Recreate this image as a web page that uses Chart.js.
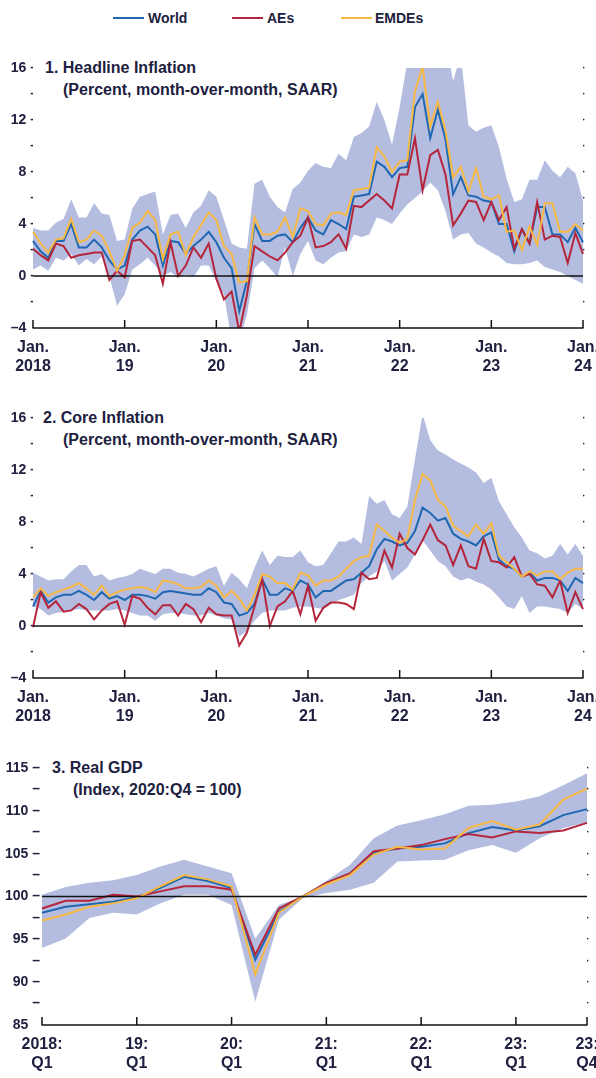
<!DOCTYPE html>
<html>
<head>
<meta charset="utf-8">
<script src="https://cdn.jsdelivr.net/npm/chart.js@4.4.1/dist/chart.umd.min.js"></script>
<style>
  body { margin: 0; background: #fff; }
  #page { position: relative; width: 596px; height: 1078px; overflow: hidden; font-family: "Liberation Sans", Arial, sans-serif; color: #202040; }
  canvas { position: absolute; left: 0; }
  .t { position: absolute; font-weight: bold; font-size: 16px; line-height: 18px; white-space: nowrap; }
  .lg { position: absolute; top: 9px; font-weight: bold; font-size: 14px; line-height: 18px; white-space: nowrap; }
  .lg i { position: absolute; top: 8px; width: 31px; height: 2px; }
</style>
</head>
<body>
<div id="page">
  <div class="lg" style="left:113px"><i style="left:0;background:#1f67b1"></i><span style="margin-left:35px">World</span></div>
  <div class="lg" style="left:232px"><i style="left:0;background:#b5253b"></i><span style="margin-left:35px">AEs</span></div>
  <div class="lg" style="left:341px"><i style="left:0;background:#f7b844"></i><span style="margin-left:34px">EMDEs</span></div>

  <div class="t" style="left:45px;top:59px">1. Headline Inflation</div>
  <div class="t" style="left:63px;top:81px">(Percent, month-over-month, SAAR)</div>
  <canvas id="c1" width="596" height="345" style="top:40px"></canvas>

  <div class="t" style="left:43px;top:409px">2. Core Inflation</div>
  <div class="t" style="left:63px;top:431px">(Percent, month-over-month, SAAR)</div>
  <canvas id="c2" width="596" height="340" style="top:390px"></canvas>

  <div class="t" style="left:52px;top:759px">3. Real GDP</div>
  <div class="t" style="left:73px;top:781px">(Index, 2020:Q4 = 100)</div>
  <canvas id="c3" width="596" height="338" style="top:740px"></canvas>
</div>

<script>
// ---- данные: помесячно, янв. 2018 – янв. 2024 ----
const months = [];
for (let y = 2018; y <= 2024; y++) {
    for (let m = 1; m <= 12; m++) {
        if (y === 2024 && m > 1) break;
        months.push(y + '-' + String(m).padStart(2, '0'));
    }
}
const yearTicks = [['Jan.', '2018'], ['Jan.', '19'], ['Jan.', '20'], ['Jan.', '21'], ['Jan.', '22'], ['Jan.', '23'], ['Jan.', '24']];

// 1. Headline inflation
const headWorld = [2.7, 1.9, 1.4, 2.7, 2.7, 4.0, 2.2, 2.2, 2.8, 2.2, 1.2, 0.5,
    0.8, 2.8, 3.5, 3.8, 3.2, 0.8, 2.7, 2.6, 1.7, 2.3, 2.8, 3.4,
    2.6, 1.4, 0.6, -2.7, -0.4, 4.0, 2.7, 2.7, 3.1, 3.2, 2.6, 3.7,
    4.5, 3.5, 3.2, 4.3, 4.0, 3.6, 6.1, 6.2, 6.3, 8.8, 8.4, 7.6,
    8.3, 8.4, 13.0, 14.0, 10.6, 12.8, 10.5, 6.3, 7.6, 6.2, 6.1, 5.8,
    5.7, 4.0, 4.0, 1.9, 3.6, 2.5, 5.3, 5.3, 3.2, 3.2, 2.6, 3.7,
    2.6];
const headAEs = [2.1, 1.6, 1.2, 2.5, 2.3, 1.4, 1.6, 1.7, 1.8, 1.8, -0.3, 0.4,
    -0.1, 2.7, 2.8, 2.2, 1.6, -0.6, 2.6, 0.0, 0.8, 2.2, 1.4, 2.5,
    -0.2, -1.8, -1.2, -4.3, -1.5, 2.3, 1.9, 1.5, 1.2, 1.8, 2.6, 3.1,
    4.5, 2.2, 2.3, 2.6, 3.2, 2.1, 5.4, 5.3, 5.8, 6.3, 5.8, 5.2,
    7.8, 7.8, 10.6, 6.6, 9.3, 9.7, 7.8, 3.9, 4.8, 5.8, 5.7, 4.3,
    5.7, 4.3, 5.3, 2.1, 3.6, 2.5, 5.7, 2.8, 3.1, 3.0, 1.0, 3.3,
    1.7];
const headEMDEs = [3.4, 2.5, 1.8, 2.8, 2.9, 4.4, 2.6, 2.8, 3.5, 3.1, 1.9, 0.4,
    1.6, 3.7, 4.1, 5.0, 4.3, 1.3, 3.2, 3.4, 1.6, 3.0, 3.9, 4.9,
    4.3, 2.3, 1.7, -0.5, -0.4, 4.5, 3.2, 3.2, 3.4, 4.5, 3.0, 5.2,
    5.0, 4.0, 3.9, 4.8, 4.9, 4.7, 6.6, 6.7, 6.8, 9.9, 9.2, 8.0,
    8.8, 8.9, 14.2, 16.1, 11.5, 13.4, 11.2, 7.6, 8.4, 6.5, 8.3, 6.1,
    5.9, 6.2, 3.4, 3.5, 2.0, 3.8, 2.4, 5.6, 5.6, 3.4, 3.4, 4.0,
    3.5];
const headHigh = [3.7, 3.5, 3.5, 4.1, 4.4, 5.9, 4.5, 4.5, 5.6, 4.8, 4.7, 2.7,
    2.8, 5.2, 6.1, 6.3, 6.5, 3.2, 4.7, 4.8, 3.7, 4.9, 5.4, 6.6,
    6.1, 4.3, 2.5, 2.2, 2.1, 7.1, 7.4, 6.1, 5.3, 4.9, 6.7, 7.2,
    8.1, 8.7, 8.4, 8.3, 9.4, 8.9, 10.7, 11.0, 11.5, 13.4, 12.0, 10.1,
    13.0, 16.5, 18.0, 18.0, 18.0, 18.0, 18.0, 15.0, 17.0, 11.6, 11.1, 11.4,
    11.6, 9.9, 7.5, 5.7, 5.9, 7.4, 7.4, 8.9, 8.1, 7.6, 8.4, 7.9,
    5.8];
const headLow = [0.5, 0.8, 0.4, 1.4, 1.2, 1.7, 0.8, 1.3, 0.9, 1.5, 0.0, -2.3,
    -1.4, 0.5, 0.9, 1.4, 0.8, 0.0, 0.3, -0.1, 0.1, -0.1, 0.8, 0.8,
    -0.4, -1.4, -5.0, -5.0, -3.0, 0.6, 1.2, 0.6, -0.1, 2.2, 0.0, 1.7,
    2.7, 1.2, 0.9, 1.4, 1.8, 1.9, 3.2, 3.0, 3.2, 4.5, 4.3, 4.0,
    4.8, 5.5, 6.0, 6.5, 7.2, 6.6, 5.0, 2.8, 3.2, 3.3, 2.5, 2.2,
    1.8, 1.5, 1.0, 0.9, 0.9, 1.0, 1.2, 0.7, 0.5, 0.3, 0.0, -0.3,
    -0.6];

// 2. Core inflation
const coreWorld = [1.5, 2.7, 1.8, 2.2, 2.4, 2.4, 2.7, 2.4, 2.0, 2.6, 2.1, 2.3,
    2.0, 2.4, 2.4, 2.3, 2.1, 2.6, 2.7, 2.6, 2.5, 2.4, 2.4, 2.9,
    2.6, 1.8, 1.7, 0.8, 1.0, 1.7, 3.6, 2.4, 2.4, 2.9, 2.7, 3.5,
    3.2, 2.2, 2.7, 2.7, 3.1, 3.5, 3.6, 4.1, 4.6, 5.9, 6.7, 6.5,
    6.2, 6.4, 7.3, 9.1, 8.7, 8.1, 8.3, 7.1, 6.7, 6.5, 6.2, 6.9,
    7.2, 5.1, 4.6, 4.4, 3.8, 4.1, 3.5, 3.7, 3.7, 3.5, 2.7, 3.7,
    3.3];
const coreAEs = [-0.1, 2.6, 1.4, 1.9, 1.1, 1.2, 1.7, 1.3, 0.5, 1.2, 1.7, 1.9,
    0.1, 2.3, 2.1, 1.4, 0.9, 1.6, 1.6, 0.8, 1.7, 1.3, 0.3, 1.4,
    0.9, 0.8, 0.8, -1.5, -0.5, 1.5, 3.6, 0.0, 1.5, 1.9, 2.7, 0.9,
    3.1, 0.4, 1.4, 1.8, 1.8, 1.7, 1.3, 4.1, 3.6, 3.7, 5.8, 4.5,
    7.1, 6.0, 5.5, 6.6, 7.8, 6.6, 6.2, 4.7, 6.2, 4.6, 4.4, 6.7,
    5.0, 4.9, 4.5, 5.3, 3.8, 4.0, 3.2, 3.1, 2.2, 3.5, 1.0, 2.6,
    1.3];
const coreEMDEs = [2.2, 2.9, 2.3, 2.6, 2.8, 3.0, 3.3, 2.9, 2.4, 3.1, 2.3, 2.6,
    2.8, 2.9, 3.0, 2.9, 2.6, 3.5, 3.4, 3.2, 2.9, 2.9, 3.0, 3.5,
    3.1, 2.2, 2.7, 2.1, 1.2, 2.4, 4.0, 3.8, 3.3, 3.3, 2.8, 4.1,
    3.9, 3.1, 3.5, 3.5, 3.8, 4.4, 5.0, 5.3, 5.4, 7.8, 7.3, 6.8,
    6.4, 6.7, 9.7, 11.7, 11.2, 9.7, 9.2, 7.7, 7.3, 6.9, 7.8, 7.1,
    7.9, 5.4, 4.9, 4.4, 3.8, 4.2, 3.9, 4.2, 4.2, 3.6, 4.1, 4.4,
    4.4];
const coreHigh = [4.1, 3.8, 3.5, 3.6, 3.6, 4.2, 4.7, 4.7, 3.8, 4.0, 3.5, 3.7,
    3.8, 4.0, 4.4, 4.2, 4.0, 4.4, 4.4, 4.1, 4.0, 3.8, 4.1, 4.4,
    4.6, 3.1, 4.1, 3.6, 2.9, 4.5, 5.8, 4.7, 5.4, 5.3, 5.3, 5.8,
    4.9, 4.6, 4.7, 5.6, 6.5, 6.5, 6.8, 6.3, 10.0, 9.4, 9.7, 8.6,
    8.3, 9.2, 12.8, 16.3, 14.3, 13.5, 13.2, 12.8, 12.5, 12.2, 11.8, 11.0,
    11.4, 9.6, 8.6, 7.6, 6.8, 5.8, 5.6, 5.2, 5.4, 6.3, 5.5, 6.3,
    5.4];
const coreLow = [1.5, 1.3, 0.8, 1.0, 1.1, 1.2, 1.3, 1.2, 1.2, 1.2, 1.2, 1.3,
    1.2, 1.0, 0.8, 0.8, 0.4, 0.9, 1.0, 1.0, 0.9, 0.8, 0.8, 1.0,
    0.8, 0.6, 0.5, -0.8, -0.4, 0.4, 1.0, 1.2, 1.2, 1.2, 1.4, 1.5,
    1.5, 1.4, 1.3, 1.7, 2.0, 2.2, 2.4, 3.3, 3.8, 4.2, 5.0, 3.5,
    4.0, 4.5, 5.5, 6.6, 5.8, 5.0, 4.6, 3.8, 3.5, 3.7, 3.4, 3.2,
    2.8, 2.2, 1.5, 1.3, 2.3, 1.0, 1.5, 1.5, 1.4, 1.3, 1.0, 1.7,
    1.3];

// 3. Real GDP, поквартально 2018:Q1 – 2023:Q4
const quarters = ['2018Q1', '2018Q2', '2018Q3', '2018Q4', '2019Q1', '2019Q2', '2019Q3', '2019Q4',
    '2020Q1', '2020Q2', '2020Q3', '2020Q4', '2021Q1', '2021Q2', '2021Q3', '2021Q4',
    '2022Q1', '2022Q2', '2022Q3', '2022Q4', '2023Q1', '2023Q2', '2023Q3', '2023Q4'];
const quarterTicks = { 0: ['2018:', 'Q1'], 4: ['19:', 'Q1'], 8: ['20:', 'Q1'], 12: ['21:', 'Q1'], 16: ['22:', 'Q1'], 20: ['23:', 'Q1'], 23: ['23:', 'Q4'] };
const gdpWorld = [98.1, 98.8, 99.1, 99.4, 99.9, 101.0, 102.3, 101.8, 101.0, 92.6, 98.2, 100.0,
    101.6, 102.7, 105.1, 105.6, 105.8, 106.2, 107.4, 108.1, 107.7, 108.2, 109.5, 110.2];
const gdpAEs = [98.6, 99.5, 99.5, 100.2, 100.0, 100.6, 101.2, 101.2, 100.8, 93.2, 98.6, 100.0,
    101.6, 102.7, 105.3, 105.6, 106.0, 106.7, 107.3, 106.9, 107.6, 107.4, 107.7, 108.6];
const gdpEMDEs = [97.2, 97.9, 98.8, 99.2, 99.8, 101.2, 102.5, 102.0, 101.2, 90.9, 98.1, 100.0,
    101.4, 102.5, 104.9, 105.8, 105.5, 105.6, 108.0, 108.8, 107.8, 108.4, 111.3, 112.6];
const gdpHigh = [100.2, 101.1, 101.6, 101.9, 102.5, 103.5, 104.3, 103.5, 102.7, 95.1, 99.0, 100.0,
    101.8, 103.7, 106.8, 108.3, 108.9, 109.6, 110.6, 110.7, 111.1, 111.7, 113.0, 114.4];
const gdpLow = [94.0, 95.1, 97.5, 98.1, 97.9, 99.2, 100.2, 100.2, 99.0, 87.7, 97.3, 99.8,
    100.4, 100.8, 101.6, 104.1, 104.2, 104.3, 105.4, 106.0, 105.1, 106.8, 108.0, 108.6];

// ---- оформление ----
const TEXT = '#202040';
const BLUE = '#1f67b1', RED = '#b5253b', YELLOW = '#f7b844', BAND = '#b4bde0';
const DASH = '\u2013';

Chart.defaults.font.family = '"Liberation Sans", Arial, sans-serif';
Chart.defaults.color = TEXT;

// чёрная линия (0 или 100), ось снизу и засечки вверх
const axisMarks = {
    id: 'axisMarks',
    afterDatasetsDraw(chart, args, opts) {
        const { ctx, chartArea } = chart;
        const xs = chart.scales.x, ys = chart.scales.y;
        ctx.save();
        ctx.strokeStyle = '#111';
        ctx.lineWidth = 1.5;
        const yr = ys.getPixelForValue(opts.refLine);
        ctx.beginPath();
        ctx.moveTo(chartArea.left, yr);
        ctx.lineTo(chartArea.right, yr);
        ctx.stroke();
        ctx.beginPath();
        ctx.moveTo(chartArea.left - 0.5, chartArea.bottom);
        ctx.lineTo(chartArea.right + 0.5, chartArea.bottom);
        ctx.stroke();
        opts.marks.forEach(i => {
            const px = xs.getPixelForValue(i);
            ctx.beginPath();
            ctx.moveTo(px, chartArea.bottom);
            ctx.lineTo(px, chartArea.bottom - 8);
            ctx.stroke();
        });
        ctx.restore();
    }
};

function fmt(v) {
    return v < 0 ? DASH + Math.abs(v) : String(v);
}

function makePanel(id, cfg) {
    const lineDs = (label, data, color, order) => ({
        label, data, borderColor: color, borderWidth: 2, pointRadius: 0,
        fill: false, tension: 0, order
    });
    const noGrid = { display: false, drawTicks: false, tickLength: 0 };
    return new Chart(document.getElementById(id), {
        type: 'line',
        data: {
            labels: cfg.labels,
            datasets: [
                lineDs('World', cfg.world, BLUE, 2),
                lineDs('AEs', cfg.aes, RED, 1),
                lineDs('EMDEs', cfg.emdes, YELLOW, 0),
                { label: 'high', data: cfg.high, borderWidth: 0, pointRadius: 0, backgroundColor: BAND, fill: '+1', order: 3 },
                { label: 'low', data: cfg.low, borderWidth: 0, pointRadius: 0, fill: false, order: 4 }
            ]
        },
        options: {
            responsive: false,
            animation: false,
            devicePixelRatio: 1,
            layout: { padding: { top: 28, left: 0, right: 0, bottom: 0 } },
            plugins: {
                legend: { display: false },
                tooltip: { enabled: false },
                axisMarks: { refLine: cfg.ref, marks: cfg.marks }
            },
            scales: {
                x: {
                    type: 'category',
                    offset: false,
                    grid: noGrid,
                    border: { display: false },
                    ticks: {
                        autoSkip: false, maxRotation: 0, minRotation: 0, padding: 10,
                        font: { size: 16, weight: 'bold' }, color: TEXT,
                        callback: (v, i) => cfg.xLabel(i)
                    },
                    afterFit: s => { s.height = cfg.xHeight; s.paddingLeft = 0; s.paddingRight = 0; }
                },
                y: {
                    position: 'left',
                    min: cfg.min, max: cfg.max,
                    grid: noGrid,
                    border: { display: false },
                    ticks: {
                        stepSize: cfg.step, autoSkip: false, padding: cfg.leftPad,
                        font: { size: 14, weight: 'bold' }, color: TEXT,
                        callback: v => {
                            if (v === cfg.min) return fmt(v) + ' \u2007';
                            return v % cfg.major === 0 ? fmt(v) + ' ' + DASH : DASH;
                        }
                    },
                    afterFit: s => { s.width = cfg.left; }
                },
                y2: {
                    position: 'right',
                    min: cfg.min, max: cfg.max,
                    grid: noGrid,
                    border: { display: false },
                    ticks: {
                        stepSize: cfg.step, autoSkip: false, padding: -6,
                        font: { size: 14, weight: 'bold' }, color: TEXT,
                        callback: v => (v === cfg.min || v === cfg.ref) ? '' : DASH
                    },
                    afterFit: s => { s.width = 596 - cfg.right; }
                }
            }
        },
        plugins: [axisMarks]
    });
}

makePanel('c1', {
    labels: months, world: headWorld, aes: headAEs, emdes: headEMDEs, high: headHigh, low: headLow,
    min: -4, max: 16, step: 2, major: 4, ref: 0, left: 33, right: 583, leftPad: -5, xHeight: 57,
    marks: [0, 12, 24, 36, 48, 60, 72],
    xLabel: i => i % 12 === 0 ? yearTicks[i / 12] : ''
});

makePanel('c2', {
    labels: months, world: coreWorld, aes: coreAEs, emdes: coreEMDEs, high: coreHigh, low: coreLow,
    min: -4, max: 16, step: 2, major: 4, ref: 0, left: 33, right: 583, leftPad: -5, xHeight: 52,
    marks: [0, 12, 24, 36, 48, 60, 72],
    xLabel: i => i % 12 === 0 ? yearTicks[i / 12] : ''
});

makePanel('c3', {
    labels: quarters, world: gdpWorld, aes: gdpAEs, emdes: gdpEMDEs, high: gdpHigh, low: gdpLow,
    min: 85, max: 115, step: 2.5, major: 5, ref: 100, left: 42, right: 587, leftPad: 2, xHeight: 53,
    marks: [0, 4, 8, 12, 16, 20, 23],
    xLabel: i => quarterTicks[i] || ''
});
</script>
</body>
</html>
